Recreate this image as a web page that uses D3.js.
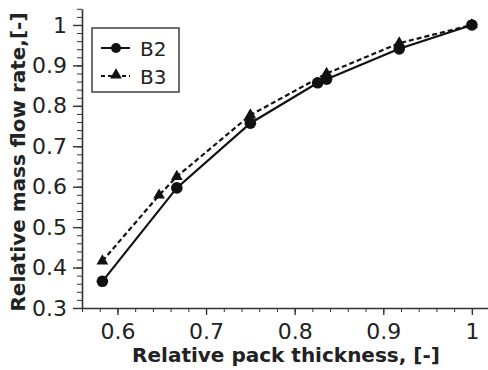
<!DOCTYPE html>
<html>
<head>
<meta charset="utf-8">
<script src="https://cdn.jsdelivr.net/npm/d3@7.9.0/dist/d3.min.js"></script>
<style>
  body { margin: 0; background: #fff; }
  svg { display: block; font-family: "DejaVu Sans", sans-serif; }
  .axis path, .axis line { stroke: #333; }
  .axis text { fill: #222; }
</style>
</head>
<body>
<svg id="chart" width="488" height="370"></svg>
<script>
// data
const b2x = [0.583, 0.667, 0.750, 0.826, 0.836, 0.918, 1.0];
const b2y = [0.366, 0.597, 0.757, 0.857, 0.866, 0.941, 1.0];
const b3x = [0.583, 0.647, 0.667, 0.750, 0.836, 0.918, 1.0];
const b3y = [0.416, 0.579, 0.625, 0.777, 0.880, 0.955, 1.0];
const xTicks = [0.6, 0.7, 0.8, 0.9, 1];
const yTicks = [0.3, 0.4, 0.5, 0.6, 0.7, 0.8, 0.9, 1];

const svg = d3.select('#chart');

const x = d3.scaleLinear().domain([0.56, 1.02]).range([82, 489.6]);
const y = d3.scaleLinear().domain([0.3, 1.04]).range([308, 8.8]);

// minor ticks every 0.02
const xMinor = d3.range(0, 24).map(i => +(0.56 + i * 0.02).toFixed(2));
const yMinor = d3.range(0, 38).map(i => +(0.3 + i * 0.02).toFixed(2));

svg.append('g')
  .attr('class', 'axis')
  .attr('transform', 'translate(0,308)')
  .call(d3.axisBottom(x).tickValues(xMinor).tickSize(4).tickSizeOuter(0).tickFormat(''))
  .call(g => g.select('.domain').attr('stroke-width', 1.6));

svg.append('g')
  .attr('class', 'axis')
  .attr('transform', 'translate(0,308)')
  .call(d3.axisBottom(x).tickValues(xTicks).tickSize(7).tickSizeOuter(0).tickPadding(8)
    .tickFormat(d => d === 1 ? '1' : d3.format('.1f')(d)))
  .call(g => g.select('.domain').remove())
  .call(g => g.selectAll('line').attr('stroke-width', 1.4))
  .call(g => g.selectAll('text').attr('font-size', 22).attr('font-family', 'DejaVu Sans'));

svg.append('g')
  .attr('class', 'axis')
  .attr('transform', 'translate(82,0)')
  .call(d3.axisLeft(y).tickValues(yMinor).tickSize(5).tickSizeOuter(0).tickFormat(''))
  .call(g => g.select('.domain').attr('stroke-width', 1.6));

svg.append('g')
  .attr('class', 'axis')
  .attr('transform', 'translate(82,0)')
  .call(d3.axisLeft(y).tickValues(yTicks).tickSize(9).tickSizeOuter(0).tickPadding(6)
    .tickFormat(d => d === 1 ? '1' : d3.format('.1f')(d)))
  .call(g => g.select('.domain').remove())
  .call(g => g.selectAll('line').attr('stroke-width', 1.4))
  .call(g => g.selectAll('text').attr('font-size', 22).attr('font-family', 'DejaVu Sans'));

// axis titles
svg.append('text')
  .attr('x', 286).attr('y', 362)
  .attr('text-anchor', 'middle')
  .attr('font-size', 20).attr('font-weight', 'bold').attr('fill', '#222')
  .text('Relative pack thickness, [-]');

svg.append('text')
  .attr('transform', 'translate(25,162) rotate(-90)')
  .attr('text-anchor', 'middle')
  .attr('font-size', 20).attr('font-weight', 'bold').attr('fill', '#222')
  .text('Relative mass flow rate,[-]');

// series
const b2 = b2x.map((d, i) => [d, b2y[i]]);
const b3 = b3x.map((d, i) => [d, b3y[i]]);
const line = d3.line().x(d => x(d[0])).y(d => y(d[1]));

svg.append('path').datum(b3)
  .attr('d', line).attr('fill', 'none').attr('stroke', '#111')
  .attr('stroke-width', 2.2).attr('stroke-dasharray', '5,3');
svg.append('path').datum(b2)
  .attr('d', line).attr('fill', 'none').attr('stroke', '#111')
  .attr('stroke-width', 2.2);

const tri = d3.symbol().type(d3.symbolTriangle).size(60);
svg.selectAll('.b3').data(b3).enter().append('path')
  .attr('class', 'b3')
  .attr('transform', d => `translate(${x(d[0])},${y(d[1])})`)
  .attr('d', tri).attr('fill', '#111');

svg.selectAll('.b2').data(b2).enter().append('circle')
  .attr('class', 'b2')
  .attr('cx', d => x(d[0])).attr('cy', d => y(d[1]))
  .attr('r', 5.8).attr('fill', '#111');

// legend
const lg = svg.append('g');
lg.append('rect')
  .attr('x', 92).attr('y', 28).attr('width', 87).attr('height', 64)
  .attr('fill', '#fff').attr('stroke', '#333').attr('stroke-width', 1.4);
lg.append('line').attr('x1', 101).attr('x2', 130).attr('y1', 48).attr('y2', 48)
  .attr('stroke', '#111').attr('stroke-width', 2);
lg.append('circle').attr('cx', 116).attr('cy', 48).attr('r', 5).attr('fill', '#111');
lg.append('line').attr('x1', 101).attr('x2', 130).attr('y1', 76).attr('y2', 76)
  .attr('stroke', '#111').attr('stroke-width', 2).attr('stroke-dasharray', '4,3');
lg.append('path').attr('transform', 'translate(116,75)').attr('d', tri).attr('fill', '#111');
lg.append('text').attr('x', 140).attr('y', 56).attr('font-size', 20).attr('fill', '#222').text('B2');
lg.append('text').attr('x', 140).attr('y', 84).attr('font-size', 20).attr('fill', '#222').text('B3');
</script>
</body>
</html>
